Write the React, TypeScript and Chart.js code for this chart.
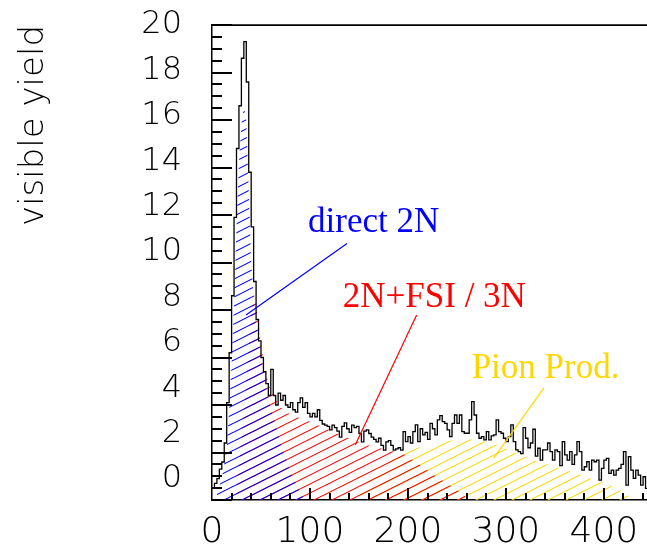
import React, { useEffect, useRef } from 'react';
import { Chart, registerables } from 'chart.js';

Chart.register(...registerables);

// ---------- data ----------
const BIN_WIDTH = 2.5;
const X_MIN = 0;
const X_MAX = 444;
const Y_MIN = 0;
const Y_MAX = 20;

// measured visible yield per 2.5-wide bin, starting at 0
const yieldCounts = [
  0.5, 0.7, 0.9, 1.3, 1.6, 2.4, 4.1, 6.2, 8.6, 11.9,
  14.8, 16.6, 18.6, 19.3, 17.6, 13.8, 11.5, 9.2, 7.6, 6.7,
  6.0, 5.4, 4.9, 4.4, 5.5, 4.4, 4.0, 4.5, 4.2, 4.4,
  4.0, 3.9, 4.1, 3.8, 3.7, 4.1, 4.3, 3.9, 4.1, 3.65,
  3.5, 3.65, 3.5, 3.8, 3.35, 3.2, 3.15, 3.1, 2.95, 3.15,
  3.05, 2.9, 2.65, 3.1, 3.25, 3.0, 2.85, 3.15, 3.05, 3.1,
  2.8, 2.45, 2.9, 2.95, 2.8, 2.65, 2.55, 2.45, 2.6, 2.3,
  2.1, 2.45, 2.5, 2.3, 2.1, 2.15, 2.2, 2.1, 2.88, 2.46,
  2.67, 2.4, 2.88, 3.16, 2.46, 3.0, 2.74, 2.85, 2.55, 3.23,
  3.0, 2.74, 3.37, 3.55, 3.3, 3.23, 2.95, 2.67, 3.23, 3.58,
  3.23, 3.58, 2.88, 2.81, 2.81, 3.37, 4.14, 3.58, 2.81, 2.6,
  2.67, 2.53, 2.88, 2.53, 2.7, 2.74, 3.37, 2.88, 2.81, 2.6,
  2.46, 2.67, 3.16, 2.46, 2.11, 2.04, 1.95, 3.05, 2.6, 2.2,
  2.4, 2.98, 1.85, 2.18, 1.68, 2.11, 2.11, 2.4, 2.04, 1.68,
  2.11, 2.04, 1.45, 2.46, 1.9, 1.68, 2.04, 1.5, 1.9, 2.46,
  2.04, 1.26, 1.4, 1.61, 1.26, 1.68, 1.61, 1.68, 0.84, 1.33,
  1.68, 1.75, 1.12, 1.26, 1.05, 1.26, 1.33, 1.5, 2.04, 0.63,
  1.83, 1.26, 0.91, 1.26, 1.05, 0.63, 0.98, 0.49,
];

// component: direct 2N
const directX = [5, 10, 15, 17.5, 20, 22.5, 25, 27.5, 30, 32.5, 35, 37.5, 40, 42.5, 45, 50, 55, 60, 70, 80, 90, 95];
const directY = [0.3, 0.9, 2.2, 3.8, 5.8, 8.3, 11.5, 14.2, 15.8, 16.6, 16.0, 13.0, 10.0, 8.6, 7.5, 6.0, 4.8, 3.9, 2.4, 1.2, 0.3, 0];

// component: 2N+FSI / 3N
const fsiX = [25, 30, 35, 40, 42.5, 45, 50, 55, 60, 70, 80, 100, 120, 140, 160, 180, 195, 210, 225, 240, 255, 262];
const fsiY = [0.5, 2.5, 5.0, 8.0, 8.7, 8.3, 6.6, 5.3, 4.6, 3.9, 3.6, 3.3, 2.95, 2.6, 2.3, 2.1, 1.95, 1.55, 1.1, 0.7, 0.3, 0];

// component: pion production
const pionX = [150, 170, 190, 210, 230, 250, 270, 290, 310, 330, 350, 370, 390, 410, 422, 430];
const pionY = [0.4, 1.2, 1.9, 2.2, 2.4, 2.55, 2.55, 2.35, 2.0, 1.65, 1.4, 1.15, 0.85, 0.55, 0.3, 0];

const xTickLabels = [0, 100, 200, 300, 400];
const yTickLabels = [0, 2, 4, 6, 8, 10, 12, 14, 16, 18, 20];
const Y_MINOR_STEP = 0.5;
const X_MINOR_STEP = 20;

const Y_TITLE = 'visible yield';

// annotation labels: text, anchor (data coords), pointer from -> to (data coords)
const labelTexts = ['direct 2N', '2N+FSI / 3N', 'Pion Prod.'];
const labelColors = ['#0000ff', '#ff0000', '#ffd700'];
const labelAnchorX = [98, 133.5, 265];
const labelAnchorY = [11.3, 8.14, 5.12];
const pointerFromX = [137.8, 208.9, 338.8];
const pointerFromY = [10.8, 7.79, 4.72];
const pointerToX = [34.7, 146.2, 287.8];
const pointerToY = [7.79, 2.32, 1.77];

const THIN_FONT = "'DejaVu Sans ExtraLight', 'DejaVu Sans Light', 'DejaVu Sans', sans-serif";
const SERIF = "'Liberation Serif', 'Times New Roman', serif";

function makeHatch(ctx: CanvasRenderingContext2D, color: string): CanvasPattern | string {
  const tile = document.createElement('canvas');
  tile.width = 18;
  tile.height = 9;
  const g = tile.getContext('2d');
  if (!g) return color;
  g.strokeStyle = color;
  g.lineWidth = 1.1;
  g.beginPath();
  for (const off of [-9, 0, 9]) {
    g.moveTo(-2, 10 + off);
    g.lineTo(20, -1 + off);
  }
  g.stroke();
  return ctx.createPattern(tile, 'repeat') || color;
}

function drawTicks(chart: any) {
  const ctx: CanvasRenderingContext2D = chart.ctx;
  const ca = chart.chartArea;
  const xs = chart.scales.x;
  const ys = chart.scales.y;
  ctx.save();
  ctx.globalAlpha = 1;
  ctx.globalCompositeOperation = 'source-over';
  ctx.fillStyle = '#000000';
  const nY = Math.round((Y_MAX - Y_MIN) / Y_MINOR_STEP);
  for (let k = 0; k <= nY; k++) {
    const v = Y_MIN + k * Y_MINOR_STEP;
    const len = k % 4 === 0 ? 20 : 10;
    const py = Math.round(ys.getPixelForValue(v));
    ctx.fillRect(ca.left, py - 1, len, 2);
  }
  for (let k = 1; k * X_MINOR_STEP <= X_MAX; k++) {
    const len = k % 5 === 0 ? 12 : 7;
    const px = Math.round(xs.getPixelForValue(k * X_MINOR_STEP));
    ctx.fillRect(px - 1, ca.bottom - len, 2, len);
  }
  ctx.fillRect(ca.left, ca.top - 0.5, ca.right - ca.left, 1.5);
  ctx.restore();
}

const decorPlugin = {
  id: 'rootDecor',
  afterDatasetsDraw(chart: any) {
    const ctx: CanvasRenderingContext2D = chart.ctx;
    const xs = chart.scales.x;
    const ys = chart.scales.y;
    drawTicks(chart);
    ctx.save();
    for (let i = 0; i < labelTexts.length; i++) {
      ctx.strokeStyle = labelColors[i];
      ctx.lineWidth = 1.2;
      ctx.beginPath();
      ctx.moveTo(xs.getPixelForValue(pointerFromX[i]), ys.getPixelForValue(pointerFromY[i]));
      ctx.lineTo(xs.getPixelForValue(pointerToX[i]), ys.getPixelForValue(pointerToY[i]));
      ctx.stroke();
      ctx.fillStyle = labelColors[i];
      ctx.font = `35px ${SERIF}`;
      ctx.textAlign = 'left';
      ctx.textBaseline = 'alphabetic';
      ctx.fillText(labelTexts[i], xs.getPixelForValue(labelAnchorX[i]), ys.getPixelForValue(labelAnchorY[i]));
    }
    ctx.restore();
  },
  afterDraw(chart: any) {
    drawTicks(chart);
  },
};

export default function App() {
  const ref = useRef<HTMLCanvasElement | null>(null);

  useEffect(() => {
    const canvas = ref.current;
    if (!canvas) return;
    const ctx = canvas.getContext('2d');
    if (!ctx) return;

    const histPoints = yieldCounts.map((v, i) => ({ x: i * BIN_WIDTH, y: v }));
    histPoints.push({ x: yieldCounts.length * BIN_WIDTH, y: yieldCounts[yieldCounts.length - 1] });

    const toPts = (px: number[], py: number[]) => px.map((x, i) => ({ x, y: py[i] }));

    const chart = new Chart(ctx, {
      type: 'line',
      data: {
        datasets: [
          {
            label: 'data',
            data: histPoints,
            stepped: true,
            borderColor: '#000',
            borderWidth: 1.3,
            pointRadius: 0,
            fill: false,
            order: 0,
            yAxisID: 'y',
          },
          {
            label: 'direct 2N',
            data: toPts(directX, directY),
            borderWidth: 0,
            borderColor: 'rgba(0,0,0,0)',
            backgroundColor: makeHatch(ctx, '#0000ff') as any,
            pointRadius: 0,
            fill: 'origin',
            order: 1,
            yAxisID: 'y',
          },
          {
            label: '2N+FSI / 3N',
            data: toPts(fsiX, fsiY),
            borderWidth: 0,
            borderColor: 'rgba(0,0,0,0)',
            backgroundColor: makeHatch(ctx, '#ff0000') as any,
            pointRadius: 0,
            fill: 'origin',
            order: 2,
            yAxisID: 'y',
          },
          {
            label: 'Pion Prod.',
            data: toPts(pionX, pionY),
            borderWidth: 0,
            borderColor: 'rgba(0,0,0,0)',
            backgroundColor: makeHatch(ctx, '#ffd700') as any,
            pointRadius: 0,
            fill: 'origin',
            order: 3,
            yAxisID: 'y',
          },
        ],
      },
      options: {
        animation: false,
        responsive: false,
        maintainAspectRatio: false,
        layout: { padding: { top: 25, left: 0, right: 0, bottom: 0 } },
        plugins: {
          legend: { display: false },
          tooltip: { enabled: false },
        },
        scales: {
          x: {
            type: 'linear',
            position: 'bottom',
            min: X_MIN,
            max: X_MAX,
            grid: { display: false, drawTicks: false },
            border: { display: true, color: '#000', width: 1.5 },
            ticks: {
              autoSkip: false,
              maxRotation: 0,
              padding: 11,
              color: '#000',
              font: { family: THIN_FONT, size: 36, weight: '200' as any },
            },
            afterBuildTicks: (s: any) => {
              s.ticks = xTickLabels.map((v) => ({ value: v }));
            },
            afterFit: (s: any) => {
              s.height = 47;
              s.paddingLeft = 0;
              s.paddingRight = 0;
            },
          },
          y: {
            type: 'linear',
            display: false,
            min: Y_MIN,
            max: Y_MAX,
          },
          yLab: {
            type: 'linear',
            position: 'left',
            weight: 10,
            min: -0.925,
            max: 20,
            grid: { display: false, drawTicks: false },
            border: { display: true, color: '#000', width: 1.5 },
            ticks: {
              autoSkip: false,
              padding: 30,
              color: '#000',
              font: { family: THIN_FONT, size: 32, weight: '200' as any },
            },
            afterBuildTicks: (s: any) => {
              s.ticks = yTickLabels.map((v) => ({ value: v }));
            },
            afterFit: (s: any) => {
              s.width = 212;
              s.paddingTop = 0;
              s.paddingBottom = 0;
            },
            title: {
              display: true,
              text: Y_TITLE,
              align: 'end',
              color: '#000',
              padding: { top: 14, bottom: 0 },
              font: { family: THIN_FONT, size: 34, weight: '200' as any },
            },
          },
        },
      } as any,
      plugins: [decorPlugin],
    });

    return () => chart.destroy();
  }, []);

  return (
    <div style={{ position: 'absolute', left: 0, top: 0, width: 647, height: 547 }}>
      <canvas ref={ref} width={647} height={547} style={{ display: 'block' }} />
    </div>
  );
}
